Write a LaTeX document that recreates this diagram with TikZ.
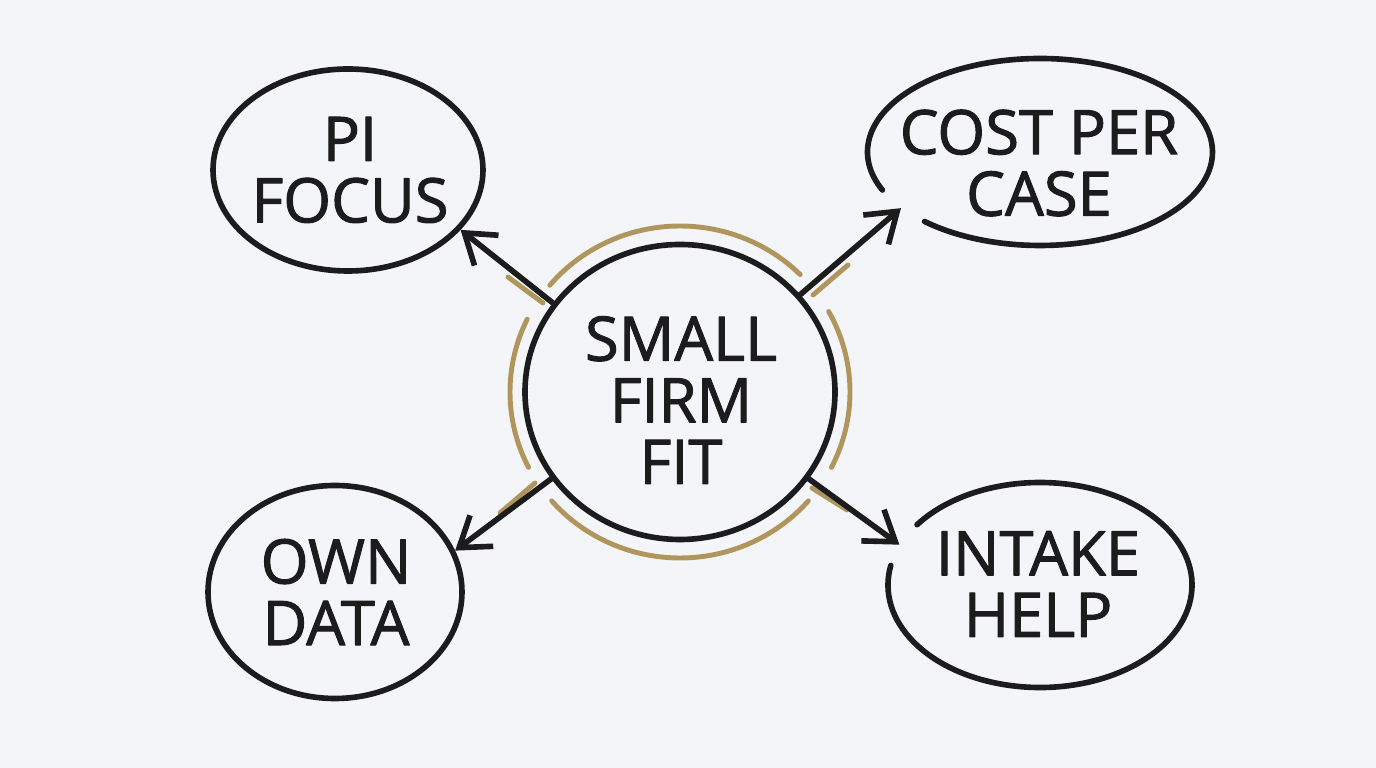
\documentclass[tikz,border=0pt]{standalone}
\usepackage{fontspec}
\setmainfont{Open Sans}[FakeBold=1.6]
\usepackage{tikz}
\usetikzlibrary{calc,shapes.geometric,arrows.meta}
\definecolor{paper}{RGB}{244,245,248}
\definecolor{ink}{RGB}{28,28,28}
\definecolor{gold}{RGB}{176,150,92}

\begin{document}
\begin{tikzpicture}[line cap=round, line join=round,
    ink line/.style={draw=ink, line width=1.6pt},
    gold line/.style={draw=gold, line width=1.4pt},
    bubble/.style={ellipse, inner sep=0pt},
    word/.style={align=center, text=ink, font=\fontsize{17.5}{17.5}\selectfont},
    link/.style={ink line, -{Straight Barb[length=8pt,width=11pt]}}]

    % --- 1. Paper ---
    \fill[paper] (0,0) rectangle (13.76,7.68);

    % --- 2. Centre circle with gold ring ---
    \node[bubble, ink line, minimum width=3.1cm, minimum height=2.95cm] (fit) at (6.80,3.76) {};
    \node[word] (fittext) at (6.81,3.68) {SMALL\\FIRM\\FIT};
    \foreach \a/\b in {45/140, -27/29, 154/207, 221/319}
        \draw[gold line] ($(fit.center)+(\a:1.70 and 1.66)$) arc[start angle=\a, end angle=\b, x radius=1.70, y radius=1.66];
    % gold strokes beside the arrows
    \draw[gold line] (5.08,4.91) -- (5.43,4.65);
    \draw[gold line] (8.13,4.73) -- (8.48,5.03);
    \draw[gold line] (5.00,2.55) -- (5.35,2.85);
    \draw[gold line] (8.12,2.80) -- (8.47,2.58);

    % --- 3. Outer bubbles ---
    \node[bubble, ink line, minimum width=2.70cm, minimum height=2.02cm] (pi) at (3.48,5.98) {};
    \node[word] (pitext) at (3.50,5.98) {PI\\FOCUS};

    \node[bubble, minimum width=3.45cm, minimum height=1.87cm] (cost) at (10.40,6.16) {};
    \draw[ink line] ($(cost.center)+(228:1.725 and 0.935)$) arc[start angle=228, end angle=564, x radius=1.725, y radius=0.935];
    \node[word] (costtext) at (10.39,6.05) {COST PER\\CASE};

    \node[bubble, ink line, minimum width=2.54cm, minimum height=2.13cm] (own) at (3.35,1.76) {};
    \node[word] (owntext) at (3.36,1.76) {OWN\\DATA};

    \node[bubble, minimum width=3.04cm, minimum height=2.05cm] (intake) at (10.40,1.83) {};
    \draw[ink line] ($(intake.center)+(169:1.52 and 1.025)$) arc[start angle=169, end angle=504, x radius=1.52, y radius=1.025];
    \node[word] (intaketext) at (10.38,1.84) {INTAKE\\HELP};

    % --- 4. Arrows ---
    \draw[link] (fit.145) -- (pi.-28);
    \draw[link] (fit.39) -- (cost.202);
    \draw[link] (fit.214) -- (own.19);
    \draw[link] (fit.-34) -- (intake.164);
\end{tikzpicture}
\end{document}
